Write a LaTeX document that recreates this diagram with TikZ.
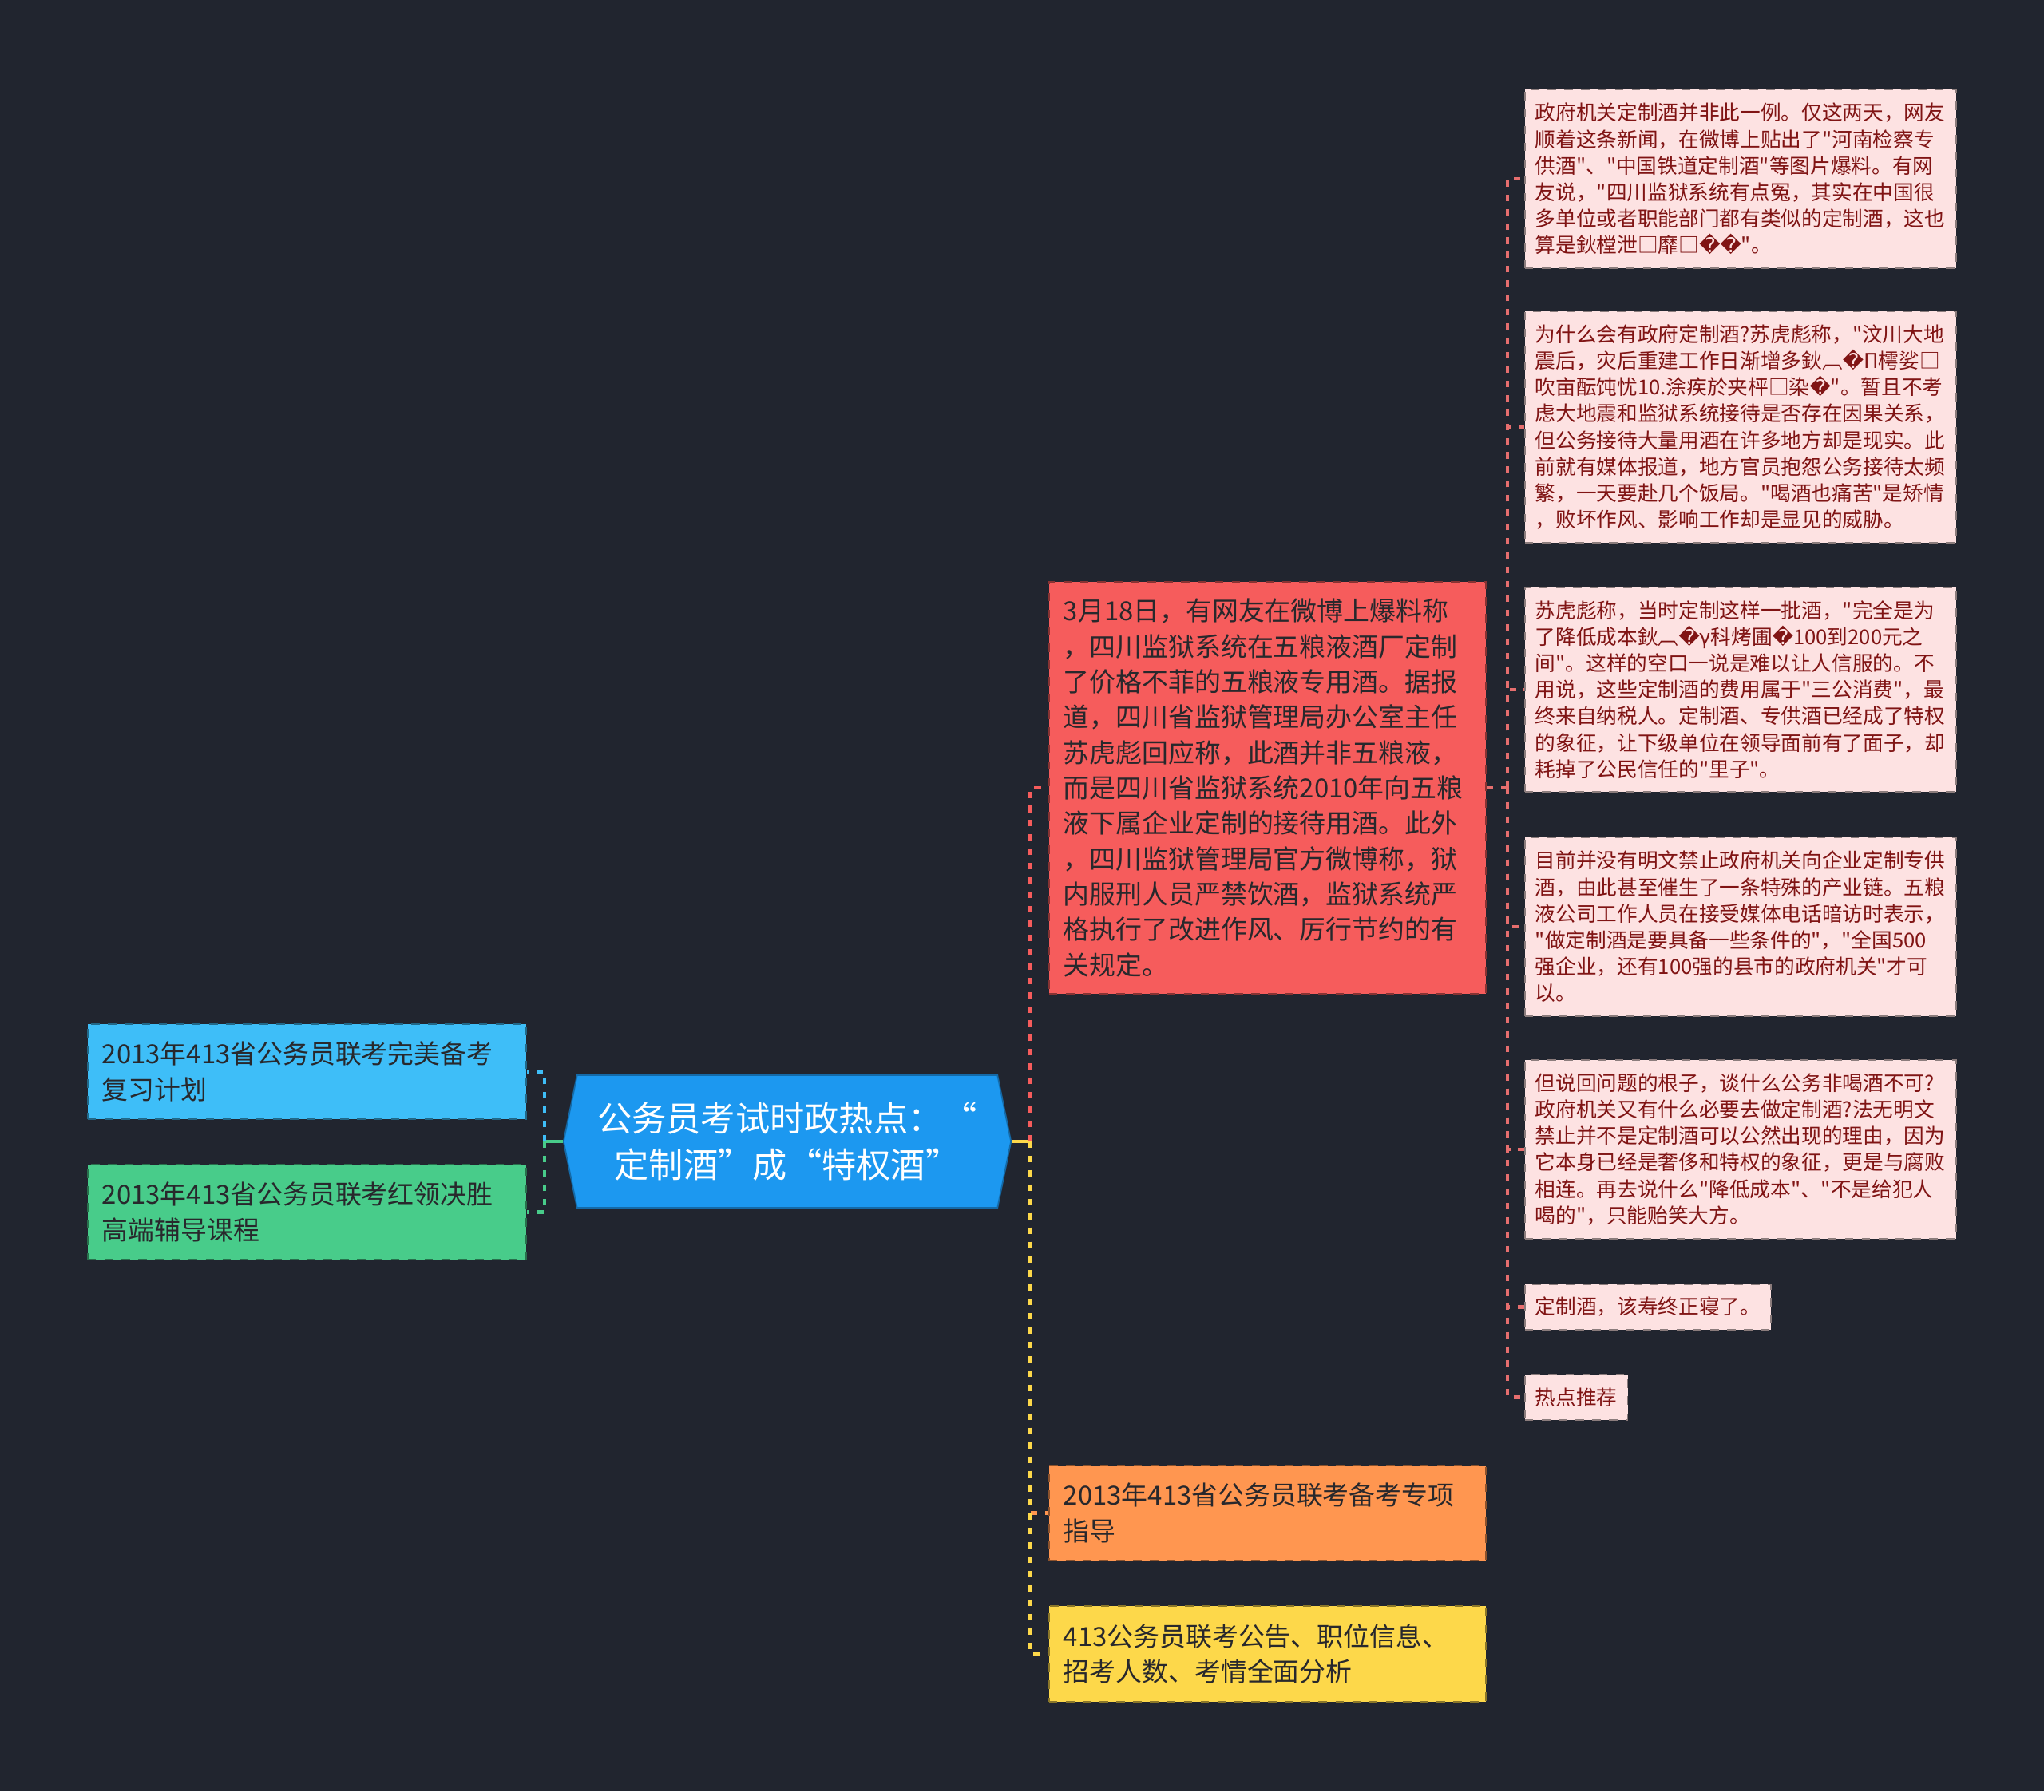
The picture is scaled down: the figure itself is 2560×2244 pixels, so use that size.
\documentclass[tikz,border=0pt]{standalone}
\usepackage{fontspec}
\setmainfont{Noto Sans CJK SC}[Ligatures=TeXOff]
\newfontfamily\symfont{DejaVu Sans}
\usetikzlibrary{shapes.symbols, positioning}

\definecolor{bgdark}{RGB}{33,37,47}
\definecolor{ctitle}{RGB}{28,152,240}
\definecolor{cblue}{RGB}{62,190,248}
\definecolor{cgreen}{RGB}{72,204,138}
\definecolor{cred}{RGB}{246,92,92}
\definecolor{corange}{RGB}{255,150,80}
\definecolor{cyellow}{RGB}{253,216,74}
\definecolor{cpink}{RGB}{253,226,226}
\definecolor{cpinkline}{RGB}{230,110,110}
\definecolor{cnotetext}{RGB}{128,20,20}
\definecolor{cdarktext}{RGB}{40,40,44}

% replacement glyph as printed in the source
\newcommand{\bad}{{\symfont\char"FFFD}}

\begin{document}
\begin{tikzpicture}[
    x=0.01cm, y=-0.01cm,
    title/.style={signal, signal to=west and east, signal pointer angle=157,
        fill=ctitle, draw=ctitle!70!black, line width=0.5pt, text=white,
        align=center, minimum width=5.6cm, minimum height=1.66cm,
        font=\fontsize{12.3}{16.4}\selectfont},
    box/.style={rectangle, anchor=north west, dashed, line width=0.5pt,
        align=left, inner xsep=0.18cm, text=cdarktext,
        font=\fontsize{9.35}{12.6}\selectfont},
    note/.style={rectangle, anchor=north west, dashed, line width=0.5pt,
        fill=cpink, draw=cpink!55!black, text=cnotetext, align=left,
        inner xsep=0.13cm, minimum height=0.57cm,
        font=\fontsize{7.3}{9.42}\selectfont},
    stem/.style={line width=1.2pt},
    link/.style={line width=1.2pt, dash pattern=on 2.3pt off 2.8pt}
]

\fill[bgdark] (0,0) rectangle (2560,2244);

% central topic
\node[title] (title) at (986,1430) {公务员考试时政热点：“\\定制酒”成“特权酒”};

% left branch
\node[box, fill=cblue, draw=cblue!55!black, text width=5.13cm, minimum height=1.19cm]
    (plan) at (109,1282) {2013年413省公务员联考完美备考\\复习计划};
\node[box, fill=cgreen, draw=cgreen!55!black, text width=5.13cm, minimum height=1.19cm]
    (course) at (109,1458) {2013年413省公务员联考红领决胜\\高端辅导课程};

% right branch
\node[box, fill=cred, draw=cred!55!black, text width=5.11cm, minimum height=5.16cm]
    (fact) at (1313,728) {3月18日，有网友在微博上爆料称\\，四川监狱系统在五粮液酒厂定制\\了价格不菲的五粮液专用酒。据报\\道，四川省监狱管理局办公室主任\\苏虎彪回应称，此酒并非五粮液，\\而是四川省监狱系统2010年向五粮\\液下属企业定制的接待用酒。此外\\，四川监狱管理局官方微博称，狱\\内服刑人员严禁饮酒，监狱系统严\\格执行了改进作风、厉行节约的有\\关规定。};
\node[box, fill=corange, draw=corange!55!black, text width=5.11cm, minimum height=1.19cm]
    (guide) at (1313,1835) {2013年413省公务员联考备考专项\\指导};
\node[box, fill=cyellow, draw=cyellow!55!black, text width=5.11cm, minimum height=1.2cm]
    (notice) at (1313,2011) {413公务员联考公告、职位信息、\\招考人数、考情全面分析};

% notes on the news item
\node[note, text width=5.14cm, minimum height=2.24cm] (n1) at (1909,111)
    {政府机关定制酒并非此一例。仅这两天，网友\\顺着这条新闻，在微博上贴出了"河南检察专\\供酒"、"中国铁道定制酒"等图片爆料。有网\\友说，"四川监狱系统有点冤，其实在中国很\\多单位或者职能部门都有类似的定制酒，这也\\算是鈥樘泄□靡□\bad\bad"。};
\node[note, text width=5.14cm, minimum height=2.9cm] (n2) at (1909,389)
    {为什么会有政府定制酒?苏虎彪称，"汶川大地\\震后，灾后重建工作日渐增多鈥︹\bad Π樗娑□\\吹亩酝饨忧10.涂疾於夹枰□染\bad"。暂且不考\\虑大地震和监狱系统接待是否存在因果关系，\\但公务接待大量用酒在许多地方却是现实。此\\前就有媒体报道，地方官员抱怨公务接待太频\\繁，一天要赴几个饭局。"喝酒也痛苦"是矫情\\，败坏作风、影响工作却是显见的威胁。};
\node[note, text width=5.14cm, minimum height=2.56cm] (n3) at (1909,735)
    {苏虎彪称，当时定制这样一批酒，"完全是为\\了降低成本鈥︹\bad γ科烤圃\bad 100到200元之\\间"。这样的空口一说是难以让人信服的。不\\用说，这些定制酒的费用属于"三公消费"，最\\终来自纳税人。定制酒、专供酒已经成了特权\\的象征，让下级单位在领导面前有了面子，却\\耗掉了公民信任的"里子"。};
\node[note, text width=5.14cm, minimum height=2.24cm] (n4) at (1909,1048)
    {目前并没有明文禁止政府机关向企业定制专供\\酒，由此甚至催生了一条特殊的产业链。五粮\\液公司工作人员在接受媒体电话暗访时表示，\\"做定制酒是要具备一些条件的"，"全国500\\强企业，还有100强的县市的政府机关"才可\\以。};
\node[note, text width=5.14cm, minimum height=2.24cm] (n5) at (1909,1327)
    {但说回问题的根子，谈什么公务非喝酒不可?\\政府机关又有什么必要去做定制酒?法无明文\\禁止并不是定制酒可以公然出现的理由，因为\\它本身已经是奢侈和特权的象征，更是与腐败\\相连。再去说什么"降低成本"、"不是给犯人\\喝的"，只能贻笑大方。};
\node[note] (n6) at (1909,1608) {定制酒，该寿终正寝了。};
\node[note] (n7) at (1909,1721) {热点推荐};

% stems out of the central topic
\draw[stem, cgreen] (title.west) -- ++(-23,0) coordinate (lj);
\draw[stem, cyellow] (title.east) -- ++(23,0) coordinate (rj);

% left connectors
\draw[link, cblue] (lj) |- (plan.east);
\draw[link, cgreen] (lj) |- (course.east);

% right connectors
\draw[link, cred] (rj) |- (fact.west);
\draw[link, corange] (rj) |- (guide.west);
\draw[link, cyellow] (rj) |- (notice.west);

% news item to its notes
\draw[link, cpinkline] (fact.east) -- ++(26,0) coordinate (fj);
\draw[link, cpinkline] (fj) |- (n1.west);
\draw[link, cpinkline] (fj) |- (n2.west);
\draw[link, cpinkline] (fj) |- (n3.west);
\draw[link, cpinkline] (fj) |- (n4.west);
\draw[link, cpinkline] (fj) |- (n5.west);
\draw[link, cpinkline] (fj) |- (n6.west);
\draw[link, cpinkline] (fj) |- (n7.west);

\end{tikzpicture}
\end{document}
